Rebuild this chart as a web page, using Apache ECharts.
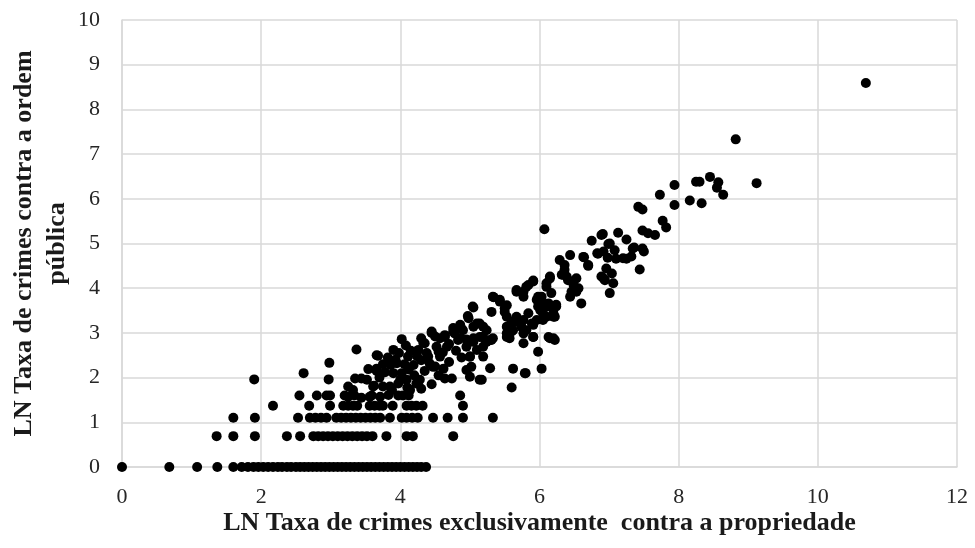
<!DOCTYPE html>
<html>
<head>
<meta charset="utf-8">
<script src="https://cdn.jsdelivr.net/npm/echarts@6/dist/echarts.min.js"></script>
<style>
  html, body { margin: 0; padding: 0; background: #ffffff; }
  #chart { width: 975px; height: 548px; }
</style>
</head>
<body>
<div id="chart"></div>
<script>
// Axis settings
const xAxisTitle = 'LN Taxa de crimes exclusivamente  contra a propriedade';
const yAxisTitle = 'LN Taxa de crimes contra a ordem\npública';
const xRange = [0, 12, 2];   // min, max, step
const yRange = [0, 10, 1];

// Municipalities with no recorded public-order crimes (y = 0): x values
const zeroRowX = [0, 0.68, 1.08, 1.37, 1.6, 1.72, 1.81, 1.89, 1.96, 2.03, 2.1, 2.17, 2.24, 2.3, 2.37,
  2.43, 2.5, 2.56, 2.62, 2.68, 2.74, 2.8, 2.86, 2.92, 2.98, 3.04, 3.1, 3.16, 3.22, 3.28, 3.34,
  3.4, 3.46, 3.52, 3.58, 3.64, 3.7, 3.76, 3.82, 3.88, 3.94, 4.0, 4.06, 4.12, 4.18, 4.24, 4.3, 4.37];

// Low band: discrete small counts (y up to ~1.7)
const lowBand = [
  [1.36, 0.69], [1.6, 0.69], [1.91, 0.69], [2.37, 0.69], [2.56, 0.69], [2.75, 0.69], [2.82, 0.69],
  [2.89, 0.69], [2.96, 0.69], [3.03, 0.69], [3.1, 0.69], [3.17, 0.69], [3.24, 0.69], [3.31, 0.69],
  [3.38, 0.69], [3.45, 0.69], [3.52, 0.69], [3.6, 0.69], [3.8, 0.69], [4.09, 0.69], [4.18, 0.69],
  [4.76, 0.69],
  [1.6, 1.1], [1.91, 1.1], [2.53, 1.1], [2.7, 1.1], [2.78, 1.1], [2.86, 1.1], [2.94, 1.1],
  [3.08, 1.1], [3.15, 1.1], [3.22, 1.1], [3.29, 1.1], [3.36, 1.1], [3.43, 1.1], [3.5, 1.1],
  [3.57, 1.1], [3.64, 1.1], [3.71, 1.1], [3.85, 1.1], [4.02, 1.1], [4.09, 1.1], [4.17, 1.1],
  [4.25, 1.1], [4.47, 1.1], [4.68, 1.1], [4.9, 1.1], [5.33, 1.1],
  [2.17, 1.37], [2.69, 1.37], [2.99, 1.37], [3.18, 1.37], [3.25, 1.37], [3.32, 1.37], [3.38, 1.37],
  [3.56, 1.37], [3.63, 1.37], [3.7, 1.37], [3.75, 1.37], [3.89, 1.37], [4.09, 1.37], [4.16, 1.37],
  [4.23, 1.37], [4.32, 1.37], [4.9, 1.37],
  [2.55, 1.6], [2.8, 1.6], [2.94, 1.6], [2.99, 1.6], [3.2, 1.6], [3.25, 1.57], [3.34, 1.6],
  [3.44, 1.55], [3.56, 1.57], [3.59, 1.6], [3.71, 1.57], [3.83, 1.61], [3.97, 1.6], [4.04, 1.6],
  [4.12, 1.6], [4.86, 1.6]
];

// Middle band (y ~1.7 to ~3.2)
const midBand = [
  [3.25, 1.8], [3.32, 1.72], [3.61, 1.8], [3.75, 1.8], [3.85, 1.8], [3.88, 1.72], [3.97, 1.87],
  [4.14, 1.72], [4.23, 1.87], [5.6, 1.78],
  [1.9, 1.96], [2.97, 1.96], [3.35, 1.98], [3.44, 1.98], [3.52, 1.95], [4.09, 1.95], [4.64, 1.98],
  [4.74, 1.98], [5.17, 1.95], [5.14, 1.95],
  [2.61, 2.1], [3.54, 2.19], [3.9, 2.1], [4.02, 2.1], [5.0, 2.02], [5.79, 2.1], [5.8, 2.1],
  [3.66, 2.2], [4.47, 2.24], [4.95, 2.17], [5.29, 2.21], [5.62, 2.2], [6.03, 2.2], [4.19, 2.28],
  [2.98, 2.33], [3.95, 2.32], [4.3, 2.39], [5.02, 2.24],
  [3.68, 2.49], [4.11, 2.47], [4.4, 2.47], [4.57, 2.47], [5.0, 2.47], [5.19, 2.47],
  [3.37, 2.63], [4.26, 2.62], [4.67, 2.69], [5.1, 2.62], [4.95, 2.69], [5.19, 2.69], [5.98, 2.58],
  [4.35, 2.77], [4.52, 2.69], [4.61, 2.56], [4.02, 2.86], [4.57, 2.88], [4.83, 2.84], [5.05, 2.88],
  [5.33, 2.88], [5.24, 2.8], [5.31, 2.84], [5.17, 2.91], [5.14, 2.91], [5.29, 2.84], [5.05, 2.8],
  [4.86, 2.88], [4.64, 2.91], [4.45, 3.03], [4.78, 2.99], [4.76, 3.03], [4.88, 3.1], [4.64, 2.95],
  [3.62, 1.82], [3.7, 2.0], [3.78, 2.12], [3.86, 2.28], [3.93, 2.4], [3.82, 2.45], [3.98, 2.55],
  [4.06, 2.3], [4.12, 2.18], [4.2, 2.05], [4.28, 1.95], [4.35, 2.15], [4.42, 2.32], [4.5, 2.25],
  [4.15, 2.6], [4.24, 2.48], [3.75, 2.3], [3.66, 2.15], [4.0, 1.95], [4.1, 1.78], [4.3, 1.75],
  [4.45, 1.85], [4.55, 2.05], [4.62, 2.2], [4.7, 2.35], [4.38, 2.55], [4.55, 2.58], [3.9, 2.62],
  [4.08, 2.72], [4.3, 2.88], [4.5, 2.92], [4.7, 2.75], [4.8, 2.6], [4.88, 2.45],
  [4.95, 2.85], [5.0, 2.47], [5.53, 2.99], [5.57, 2.88], [5.77, 2.77], [5.91, 2.91], [6.15, 2.88],
  [6.22, 2.84], [5.19, 3.14], [5.77, 2.99], [5.91, 2.91], [6.13, 2.91], [6.2, 2.88], [5.6, 3.03],
  [5.53, 3.14], [4.33, 2.78], [4.45, 3.0], [4.9, 3.06], [5.19, 2.91], [5.53, 2.91], [3.66, 2.5]
];

// Upper band (y above ~3.2)
const highBand = [
  [5.1, 3.21], [4.98, 3.33], [5.14, 3.21], [5.24, 3.06], [5.05, 3.57], [4.97, 3.38], [5.04, 3.59],
  [5.33, 3.81], [5.31, 3.47], [4.76, 3.11], [4.86, 3.18], [5.05, 3.14],
  [5.34, 3.8], [5.43, 3.74], [5.53, 3.62], [5.5, 3.47], [5.43, 3.7], [5.5, 3.55], [5.53, 3.36],
  [5.6, 3.21], [5.67, 3.25], [5.74, 3.14], [5.62, 3.06], [5.6, 3.25], [5.67, 3.36], [5.77, 3.29],
  [5.84, 3.44], [5.89, 3.21], [5.81, 3.06], [5.91, 3.18], [6.05, 3.29], [6.2, 3.36], [6.1, 3.59],
  [6.01, 3.51], [5.96, 3.74], [6.05, 3.44], [5.96, 3.29], [5.98, 3.59],
  [5.91, 4.15], [5.81, 4.03], [5.67, 3.92], [5.77, 3.81], [6.03, 3.81], [5.77, 3.92], [5.67, 3.96],
  [5.84, 4.07], [5.91, 4.17], [6.15, 4.26], [6.1, 4.11], [5.98, 3.81], [6.05, 3.66], [6.15, 3.59],
  [6.24, 3.63], [6.2, 3.44], [6.1, 3.36], [6.15, 4.22], [6.1, 4.03], [6.17, 3.89], [6.13, 3.66],
  [6.24, 3.59], [6.22, 3.36],
  [6.07, 5.32],
  [6.44, 4.74], [6.29, 4.63], [6.36, 4.52], [6.34, 4.3], [6.41, 4.18], [6.53, 4.22], [6.56, 4.0],
  [6.46, 3.92], [6.44, 3.81], [6.6, 3.66], [6.36, 4.41], [6.32, 4.3], [6.39, 4.26], [6.49, 4.07],
  [6.53, 3.92], [6.63, 4.7], [6.7, 4.52], [6.64, 4.69], [6.7, 4.5],
  [6.89, 5.19], [6.75, 5.06], [7.13, 5.24], [7.25, 5.09], [7.01, 5.0], [7.08, 4.85], [6.84, 4.77],
  [6.98, 4.68], [7.1, 4.66], [7.25, 4.66], [7.34, 4.89], [7.48, 4.89], [7.5, 4.82], [7.44, 4.42],
  [6.91, 5.21], [6.99, 4.99], [6.83, 4.78], [6.92, 4.82], [7.2, 4.67], [7.32, 4.71],
  [6.89, 4.26], [6.94, 4.18], [7.04, 4.33], [7.06, 4.11], [6.96, 4.44], [7.01, 3.89], [6.92, 4.22],
  [7.42, 5.82], [7.48, 5.76], [7.77, 5.51], [7.82, 5.36], [7.48, 5.29], [7.56, 5.23], [7.66, 5.19],
  [7.36, 4.91], [7.73, 6.09], [7.94, 6.31], [7.94, 5.86], [8.16, 5.96], [8.33, 5.9],
  [8.25, 6.38], [8.3, 6.38], [8.45, 6.49], [8.57, 6.37], [8.64, 6.09], [8.55, 6.25],
  [9.12, 6.35], [8.82, 7.33], [10.69, 8.59]
];

const allPoints = zeroRowX.map(x => [x, 0]).concat(lowBand, midBand, highBand);

const chart = echarts.init(document.getElementById('chart'), null, { renderer: 'canvas' });

const serif = '"Liberation Serif", "Times New Roman", serif';
const gridColor = '#d9d9d9';

chart.setOption({
  backgroundColor: '#ffffff',
  animation: false,
  grid: { left: 122, right: 18, top: 20, bottom: 81, containLabel: false, outerBoundsMode: 'none' },
  xAxis: {
    type: 'value',
    min: xRange[0], max: xRange[1], interval: xRange[2],
    name: xAxisTitle,
    nameLocation: 'middle',
    nameGap: 43,
    nameMoveOverlap: false,
    nameTextStyle: { fontFamily: serif, fontSize: 26, fontWeight: 'bold', color: '#1a1a1a' },
    axisLine: { show: true, lineStyle: { color: gridColor, width: 1.5 } },
    axisTick: { show: false },
    axisLabel: { fontFamily: serif, fontSize: 22, color: '#262626', margin: 19 },
    splitLine: { show: true, lineStyle: { color: gridColor, width: 1.5 } }
  },
  yAxis: {
    type: 'value',
    min: yRange[0], max: yRange[1], interval: yRange[2],
    name: yAxisTitle,
    nameLocation: 'middle',
    nameRotate: 90,
    nameGap: 48,
    nameMoveOverlap: false,
    nameTextStyle: { fontFamily: serif, fontSize: 26, fontWeight: 'bold', color: '#1a1a1a', lineHeight: 33, align: 'center' },
    axisLine: { show: true, lineStyle: { color: gridColor, width: 1.5 } },
    axisTick: { show: false },
    axisLabel: { fontFamily: serif, fontSize: 22, color: '#262626', margin: 22 },
    splitLine: { show: true, lineStyle: { color: gridColor, width: 1.5 } }
  },
  series: [{
    type: 'scatter',
    data: allPoints,
    symbol: 'circle',
    symbolSize: 10,
    itemStyle: { color: '#000000', opacity: 1 },
    silent: true
  }]
});
</script>
</body>
</html>
